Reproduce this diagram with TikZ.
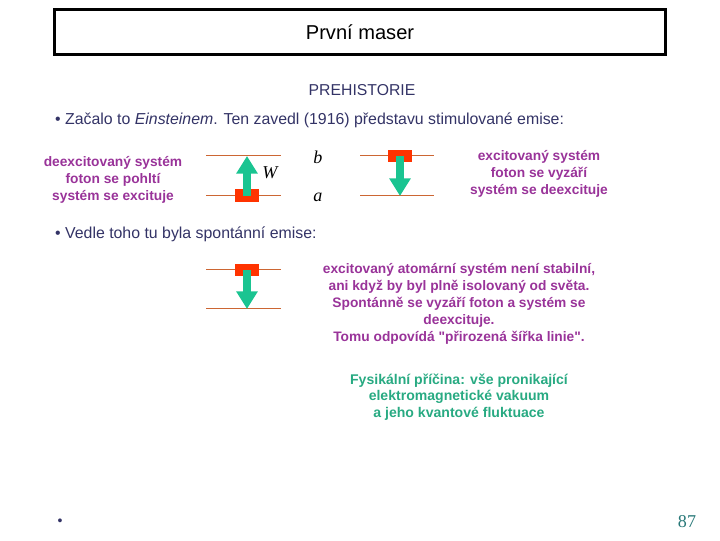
\documentclass[tikz,border=0pt]{standalone}
\usepackage{fontspec}
\setmainfont{Liberation Sans}
\newfontfamily\serifface{Liberation Serif}
\usetikzlibrary{arrows.meta}
\definecolor{levelcol}{RGB}{204,102,51}
\definecolor{boxred}{RGB}{255,51,0}
\definecolor{photongreen}{RGB}{26,196,145}
\definecolor{textmagenta}{RGB}{153,51,153}
\definecolor{textgreen}{RGB}{40,170,130}
\definecolor{textnavy}{RGB}{51,51,102}
\definecolor{pageteal}{RGB}{40,120,120}
\newcommand\straightquote{\XeTeXglyph\XeTeXcharglyph"22\relax}
\tikzset{
  level/.style={draw=levelcol, line width=0.035cm},
  atombox/.style={fill=boxred, minimum width=0.84cm, minimum height=0.43cm, inner sep=0pt},
  photon/.style={draw=photongreen, line width=0.26cm, -{Triangle[width=0.72cm,length=0.62cm]}},
  bullettext/.style={text=textnavy, font=\fontsize{15.8}{17}\selectfont, anchor=west, inner sep=0pt},
  notetext/.style={text=textmagenta, font=\fontsize{13.7}{17}\selectfont\bfseries, align=center},
  causetext/.style={text=textgreen, font=\fontsize{14}{16.5}\selectfont\bfseries, align=center},
  leveltext/.style={font=\fontsize{18}{18}\selectfont\serifface\itshape, inner sep=0pt}
}
\begin{document}
\begin{tikzpicture}
                \useasboundingbox (0.000000,0.000000) rectangle (25.200000,18.900000);
                
                % Drawing title box
                \node [draw, line width=0.105cm, minimum width=21.385cm, minimum height=1.575cm,
                       font=\fontsize{20}{20}\selectfont] (title) at (12.600000,17.780000) {První maser};%
                
                % Marking heading
                \node [text=textnavy, font=\fontsize{15.7}{15.7}\selectfont] (heading) at (12.670000,15.750000) {PREHISTORIE};%
                
                % Marking first bullet
                \node [bullettext] (einstein) at (1.925000,14.700000)
                  {\textbullet\ Začalo to \textit{Einsteinem}. Ten zavedl (1916) představu stimulované emise:};%
                
                % Marking absorption note
                \node [notetext] (absorbnote) at (3.955000,12.600000)
                  {deexcitovaný systém\\foton se pohltí\\systém se excituje};%
                
                % Drawing levels of absorption
                \coordinate (upA) at (8.645000,13.440000);
                \draw [level] (7.210000,13.440000) -- (9.835000,13.440000);%
                \draw [level] (7.210000,12.040000) -- (9.835000,12.040000);%
                \node [atombox] (atomA) at (8.645000,12.055000) {};%
                \draw [photon] (atomA.center) -- (upA);%
                \node [leveltext] (photonW) at (9.450000,12.845000) {W};%
                
                % Marking levels b and a
                \node [leveltext] (levelb) at (11.130000,13.405000) {b};%
                \node [leveltext] (levela) at (11.130000,12.005000) {a};%
                
                % Drawing levels of stimulated emission
                \coordinate (downB) at (14.000000,12.040000);
                \draw [level] (12.600000,13.440000) -- (15.190000,13.440000);%
                \draw [level] (12.600000,12.040000) -- (15.190000,12.040000);%
                \node [atombox] (atomB) at (14.000000,13.435000) {};%
                \draw [photon] (atomB.center) -- (downB);%
                
                % Marking emission note
                \node [notetext] (emitnote) at (18.865000,12.810000)
                  {excitovaný systém\\foton se vyzáří\\systém se deexcituje};%
                
                % Marking second bullet
                \node [bullettext] (spontaneous) at (1.925000,10.690000)
                  {\textbullet\ Vedle toho tu byla spontánní emise:};%
                
                % Drawing levels of spontaneous emission
                \coordinate (downC) at (8.645000,8.085000);
                \draw [level] (7.210000,9.450000) -- (9.835000,9.450000);%
                \draw [level] (7.210000,8.085000) -- (9.835000,8.085000);%
                \node [atombox] (atomC) at (8.645000,9.455000) {};%
                \draw [photon] (atomC.center) -- (downC);%
                
                % Marking spontaneous note
                \node [notetext] (spontnote) at (16.065000,8.260000)
                  {excitovaný atomární systém není stabilní,\\ani když by byl plně isolovaný od světa.\\Spontánně se vyzáří foton a systém se\\deexcituje.\\Tomu odpovídá \straightquote přirozená šířka linie\straightquote.};%
                
                % Marking cause note
                \node [causetext] (causenote) at (16.065000,5.005000)
                  {Fysikální příčina: vše pronikající\\elektromagnetické vakuum\\a jeho kvantové fluktuace};%
                
                % Marking empty bullet
                \node [text=textnavy, font=\fontsize{14}{14}\selectfont] (lastbullet) at (2.100000,0.630000) {\textbullet};%
                
                % Marking page number
                \node [text=pageteal, font=\fontsize{18}{18}\selectfont\serifface] (pagenum) at (24.045000,0.630000) {87};%
\end{tikzpicture}
\end{document}
